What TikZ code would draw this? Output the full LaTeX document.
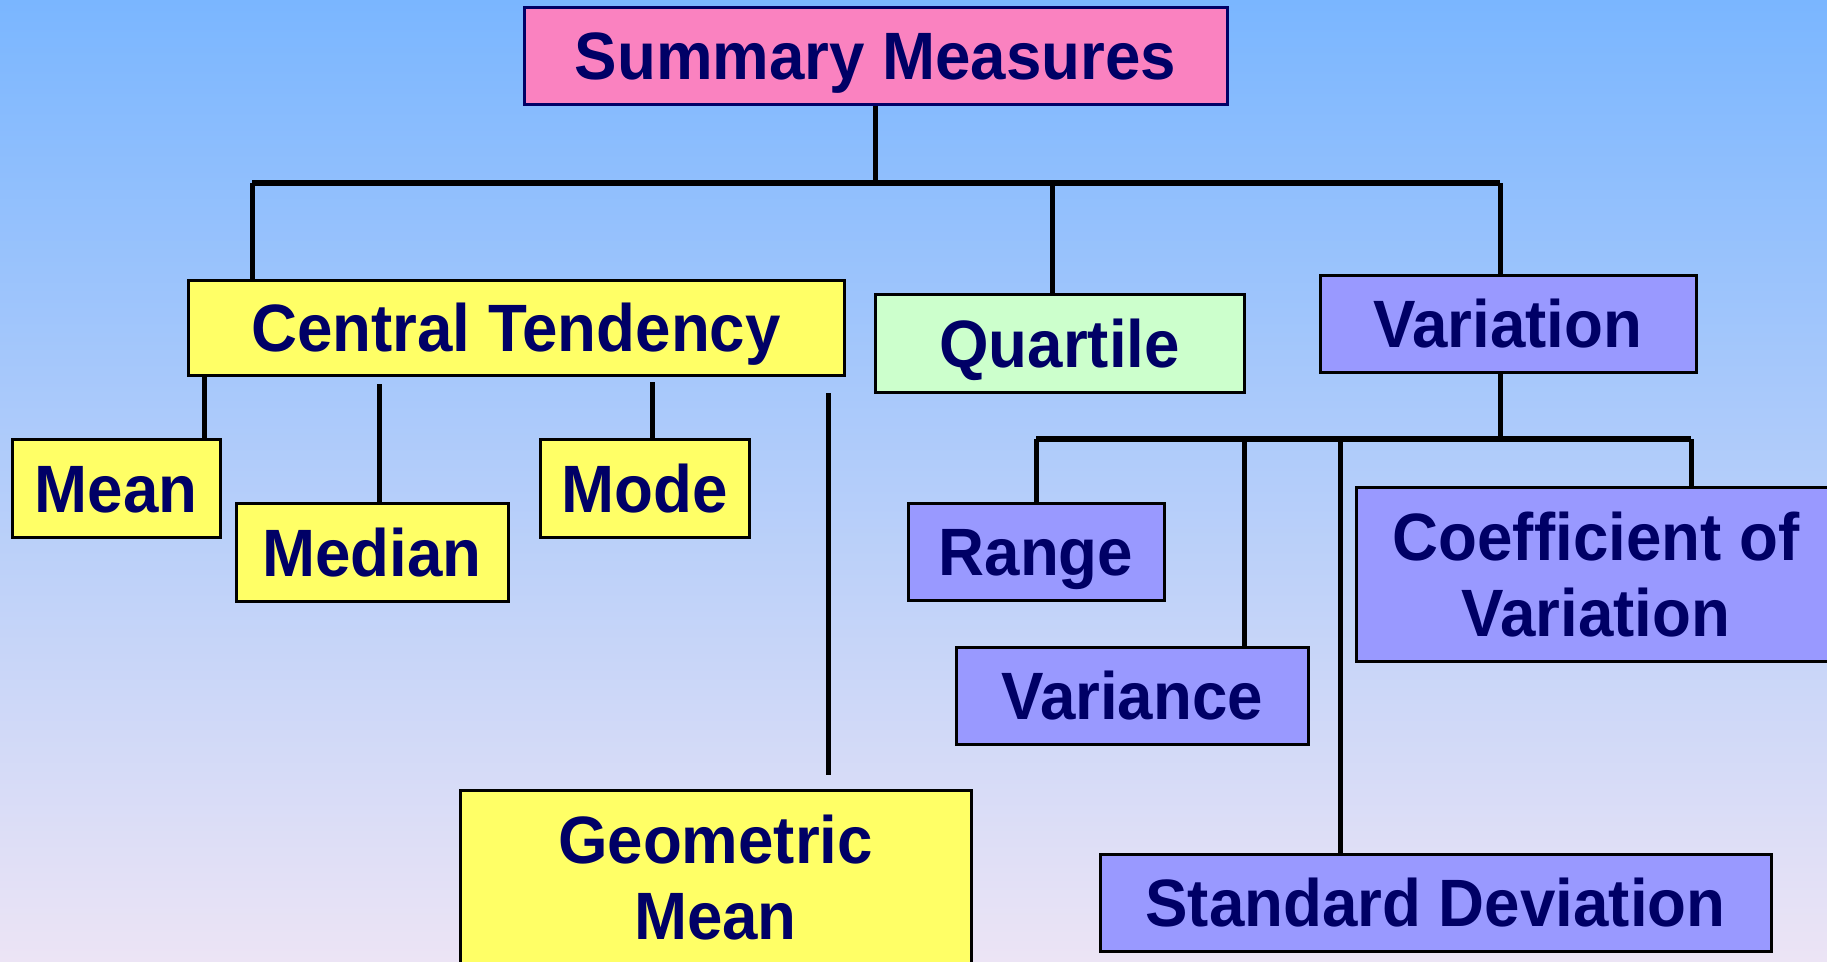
\documentclass[tikz,border=0pt]{standalone}
\usepackage{fontspec}
\setmainfont{Liberation Sans}[FakeStretch=0.95]
\definecolor{navy}{RGB}{0,0,102}
\definecolor{pinkbox}{RGB}{250,130,192}
\definecolor{yellowbox}{RGB}{255,255,102}
\definecolor{greenbox}{RGB}{204,255,204}
\definecolor{purplebox}{RGB}{153,153,255}
\definecolor{bgtop}{RGB}{122,182,255}
\definecolor{bgbottom}{RGB}{236,228,245}
\tikzset{
  box/.style={draw=black, line width=3pt, inner sep=0pt, text=navy,
    font=\fontsize{67}{76}\selectfont\bfseries, align=center,
    text height=48pt, text depth=0pt},
  twoline/.style={text height=124pt, text depth=0pt},
  conn/.style={draw=black, line width=5pt},
  bar/.style={draw=black, line width=6pt},
}
\begin{document}
\begin{tikzpicture}[x=1pt,y=-1pt]
\useasboundingbox (0,0) rectangle (1827,961);
\shade[top color=bgtop, bottom color=bgbottom] (0,0) rectangle (1827,961);
\begin{scope}
\clip (0,0) rectangle (1827,961);
% nodes
\node[box, draw=navy, fill=pinkbox, minimum width=703pt, minimum height=97pt] (sm) at (875.5,55.5) {Summary Measures};
\node[box, fill=yellowbox, minimum width=656pt, minimum height=95pt] (ct) at (516,327.5) {Central Tendency};
\node[box, fill=greenbox, minimum width=369pt, minimum height=98pt] (qu) at (1059.5,343) {Quartile};
\node[box, fill=purplebox, minimum width=376pt, minimum height=97pt] (va) at (1508,323.5) {Variation};
\node[box, fill=yellowbox, minimum width=208pt, minimum height=98pt] (mean) at (116,488) {Mean};
\node[box, fill=yellowbox, minimum width=272pt, minimum height=98pt] (median) at (372,552) {Median};
\node[box, fill=yellowbox, minimum width=209pt, minimum height=98pt] (mode) at (644.5,488) {Mode};
\node[box, twoline, fill=yellowbox, minimum width=511pt, minimum height=174pt] (gm) at (715.5,877) {Geometric\\Mean};
\node[box, fill=purplebox, minimum width=256pt, minimum height=97pt] (range) at (1036,551.5) {Range};
\node[box, fill=purplebox, minimum width=352pt, minimum height=97pt] (variance) at (1132,695.5) {Variance};
\node[box, fill=purplebox, minimum width=671pt, minimum height=97pt] (sd) at (1435.5,902.5) {Standard Deviation};
\node[box, twoline, fill=purplebox, minimum width=480pt, minimum height=174pt] (cov) at (1596,574) {Coefficient of\\Variation};
% junction coordinates
\coordinate (topL) at (252,183);
\coordinate (topM) at (875.5,183);
\coordinate (topQ) at (1052,183);
\coordinate (topR) at (1500,183);
\coordinate (lowL) at (1036,439);
\coordinate (lowV) at (1244,439);
\coordinate (lowS) at (1340,439);
\coordinate (lowM) at (1500,439);
\coordinate (lowR) at (1691,439);
\coordinate (medTop) at (379,384);
\coordinate (modeTop) at (652,382);
\coordinate (gmTop) at (828,393);
\coordinate (gmEnd) at (828,775);
% connectors
\draw[conn] (sm.south) -- (topM);
\draw[bar] (topL) -- (topR);
\draw[conn] (topL) -- (topL |- ct.north);
\draw[conn] (topQ) -- (topQ |- qu.north);
\draw[conn] (topR) -- (topR |- va.north);
\draw[conn] (lowM |- va.south) -- (lowM);
\draw[bar] (lowL) -- (lowR);
\draw[conn] (lowL) -- (range.north);
\draw[conn] (lowV) -- (lowV |- variance.north);
\draw[conn] (lowS) -- (lowS |- sd.north);
\draw[conn] (lowR) -- (lowR |- cov.north);
\draw[conn] (204,0 |- ct.south) -- (204,0 |- mean.north);
\draw[conn] (medTop) -- (medTop |- median.north);
\draw[conn] (modeTop) -- (modeTop |- mode.north);
\draw[conn] (gmTop) -- (gmEnd);
\end{scope}
\end{tikzpicture}
\end{document}
